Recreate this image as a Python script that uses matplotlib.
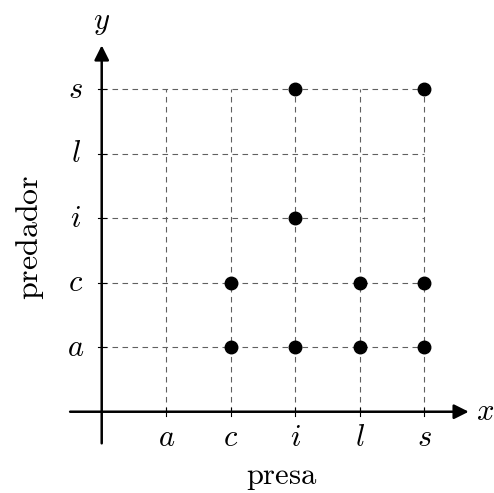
import numpy as np
import matplotlib.pyplot as plt

plt.rcParams['mathtext.fontset'] = 'cm'

# categories on both axes
cats = ['a', 'c', 'i', 'l', 's']
catPos = [1, 2, 3, 4, 5]

# (presa, predador) pairs that are marked
presa = ['i', 's', 'i', 'c', 'l', 's', 'c', 'i', 'l', 's']
predador = ['s', 's', 'i', 'c', 'c', 'c', 'a', 'a', 'a', 'a']

pos = dict(zip(cats, catPos))

fig = plt.figure(figsize=(4.94, 4.93), dpi=100)
ax = fig.add_axes([0, 0, 1, 1])
ax.set_xlim(-1.577, 6.082)
ax.set_ylim(-1.260, 6.383)
ax.axis('off')

#dashed grid
for p in catPos:
    ax.plot([p, p], [0, 5], color='#606060', lw=0.8, ls=(0, (5, 4)), zorder=1)
    ax.plot([0, 5], [p, p], color='#606060', lw=0.8, ls=(0, (5, 4)), zorder=1)

#axes with arrows
ax.annotate('', xy=(5.69, 0), xytext=(-0.49, 0),
            arrowprops=dict(arrowstyle='-|>', lw=1.8, color='k', mutation_scale=22, shrinkA=0, shrinkB=0))
ax.annotate('', xy=(0, 5.68), xytext=(0, -0.49),
            arrowprops=dict(arrowstyle='-|>', lw=1.8, color='k', mutation_scale=22, shrinkA=0, shrinkB=0))

#tick marks and labels
for c, p in zip(cats, catPos):
    ax.plot([p, p], [-0.06, 0.06], color='k', lw=0.8)
    ax.plot([-0.06, 0.06], [p, p], color='k', lw=0.8)
    ax.text(p, -0.4, '$' + c + '$', fontsize=22, ha='center', va='center')
    ax.text(-0.4, p, '$' + c + '$', fontsize=22, ha='center', va='center')

ax.text(5.94, 0, '$x$', fontsize=22, ha='center', va='center')
ax.text(0, 6.04, '$y$', fontsize=22, ha='center', va='center')
ax.text(2.8, -1.02, r'$\mathrm{presa}$', fontsize=22, ha='center', va='center')
ax.text(-1.11, 2.71, r'$\mathrm{predador}$', fontsize=23, ha='center', va='center', rotation=90)

#points
xs = [pos[c] for c in presa]
ys = [pos[c] for c in predador]
ax.plot(xs, ys, 'o', color='k', markersize=9, zorder=3)

fig.savefig('out.png', dpi=100)
